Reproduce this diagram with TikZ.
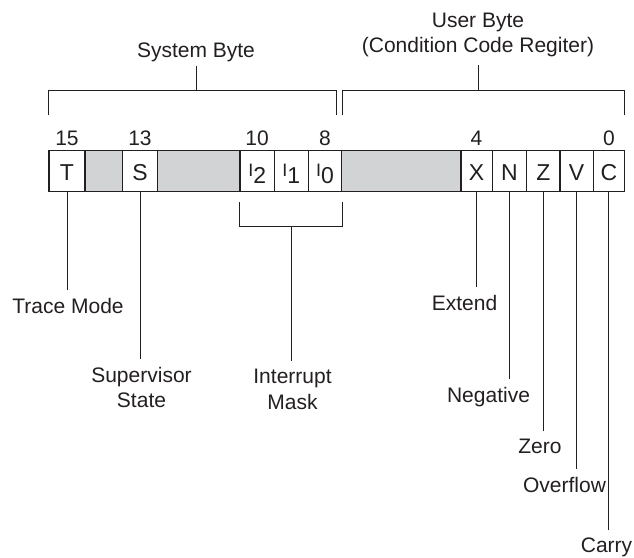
\documentclass[tikz,border=0pt]{standalone}
\usepackage{fontspec}
\setmainfont{Liberation Sans}
\usepackage{tikz}
\definecolor{inkcolor}{RGB}{35,31,32}
\definecolor{bitgray}{RGB}{209,211,212}
\newcommand{\ibit}[1]{\raisebox{4pt}{\fontsize{18}{18}\selectfont I}\raisebox{-3pt}{#1}}

\begin{document}
\begin{tikzpicture}[x=1pt, y=-1pt,
% define styles here
bitcell/.style={rectangle, draw=inkcolor, line width=1.3pt, minimum height=41pt, inner sep=0pt, text height=18pt, text depth=0pt, text=inkcolor, font=\fontsize{23}{23}\selectfont},
graycell/.style={bitcell, fill=bitgray},
bitnum/.style={anchor=base, inner sep=0pt, text=inkcolor, font=\fontsize{21}{21}\selectfont},
fieldlabel/.style={align=center, anchor=north, inner sep=8pt, text=inkcolor, font=\fontsize{21}{25.5}\selectfont},
wire/.style={draw=inkcolor, line width=0.95pt}
]
\useasboundingbox (0,0) rectangle (634,557);

% the register
\node[bitcell, minimum width=36pt] (T) at (67,171) {T};
\node[graycell, minimum width=37.7pt] (gap1) at (103.85,171) {};
\node[bitcell, minimum width=34.6pt] (S) at (140,171) {S};
\node[graycell, minimum width=82.7pt] (gap2) at (198.65,171) {};
\node[bitcell, minimum width=34.3pt] (I2) at (257.15,171) {\ibit{2}};
\node[bitcell, minimum width=34pt] (I1) at (291.3,171) {\ibit{1}};
\node[bitcell, minimum width=33.4pt] (I0) at (325,171) {\ibit{0}};
\node[graycell, minimum width=119.3pt] (gap3) at (401.35,171) {};
\node[bitcell, minimum width=31.3pt] (X) at (476.65,171) {X};
\node[bitcell, minimum width=34.4pt] (N) at (509.5,171) {N};
\node[bitcell, minimum width=33.3pt] (Z) at (543.35,171) {Z};
\node[bitcell, minimum width=33.3pt] (V) at (576.65,171) {V};
\node[bitcell, minimum width=31pt] (C) at (608.8,171) {C};

% bit numbers
\node[bitnum] (n15) at (67,145) {15};
\node[bitnum] (n13) at (140,145) {13};
\node[bitnum] (n10) at (257,145) {10};
\node[bitnum] (n8) at (325,145) {8};
\node[bitnum] (n4) at (476.5,145) {4};
\node[bitnum] (n0) at (609,145) {0};

% the two bytes
\node[fieldlabel, anchor=south, inner sep=4pt] (sysbyte) at (196,65.7) {System Byte};
\node[fieldlabel, anchor=south, inner sep=8pt] (usrbyte) at (478,65.3) {User Byte\\(Condition Code Regiter)};
\draw[wire] (48.5,115) |- (336,90.7) -- (336,115);
\draw[wire] (342.7,115) |- (624,90.7) -- (624,115);
\draw[wire] (sysbyte.south) -- +(0,25);
\draw[wire] (usrbyte.south) -- +(0,25);

% field names
\node[fieldlabel] (trace) at (68,290) {Trace Mode};
\node[fieldlabel] (super) at (141.5,359) {Supervisor\\State};
\node[fieldlabel] (intr) at (292.5,361) {Interrupt\\Mask};
\node[fieldlabel] (extend) at (464.5,287) {Extend};
\node[fieldlabel] (neg) at (488.5,378.7) {Negative};
\node[fieldlabel] (zero) at (540,431) {Zero};
\node[fieldlabel] (over) at (564.5,468.7) {Overflow};
\node[fieldlabel] (carry) at (606.5,530) {Carry};

\draw[wire] (T.south) -- (T.south |- trace.north);
\draw[wire] (S.south) -- (S.south |- super.north);
\draw[wire] ([yshift=-10pt]I2.south west) |- ([yshift=-34pt]I1.south) -| ([yshift=-10pt]I0.south east);
\draw[wire] ([yshift=-34pt]I1.south) -- (I1.south |- intr.north);
\draw[wire] (X.south) -- (X.south |- extend.north);
\draw[wire] (N.south) -- (N.south |- neg.north);
\draw[wire] (Z.south) -- (Z.south |- zero.north);
\draw[wire] (V.south) -- (V.south |- over.north);
\draw[wire] (C.south) -- (C.south |- carry.north);
\end{tikzpicture}
\end{document}
